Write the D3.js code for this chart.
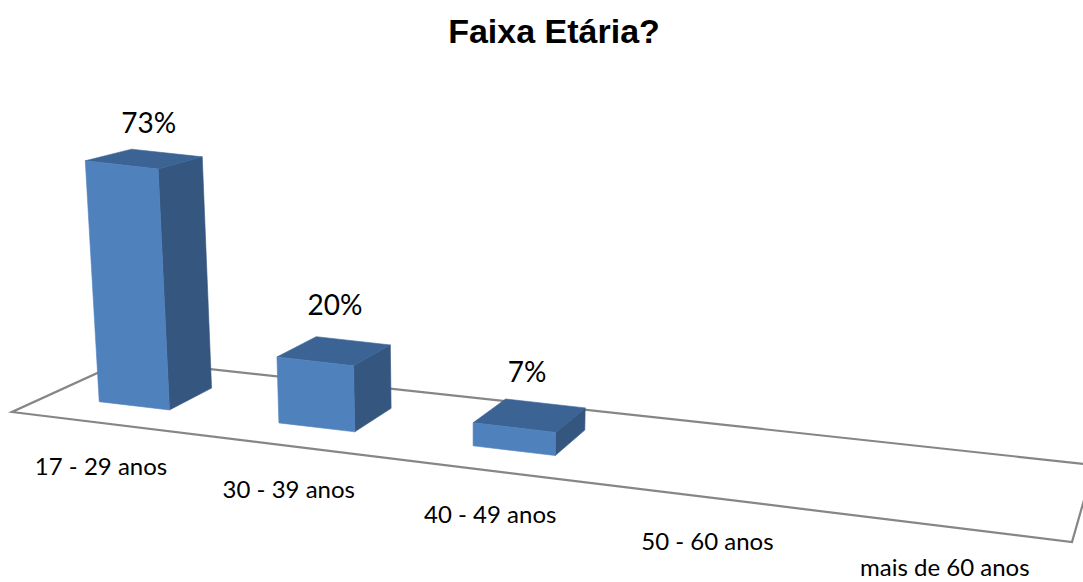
<!DOCTYPE html>
<html>
<head>
<meta charset="utf-8">
<script src="https://cdn.jsdelivr.net/npm/d3@7"></script>
<style>
  html, body { margin: 0; padding: 0; background: #fff; overflow: hidden; }
  svg { display: block; }
  text { fill: #000; }
</style>
</head>
<body>
<div id="chart"></div>
<script>
var title = 'Faixa Etária?';
var categories = ['17 - 29 anos', '30 - 39 anos', '40 - 49 anos', '50 - 60 anos', 'mais de 60 anos'];
var values = [73, 20, 7, null, null];

var w = 1083, h = 582;

// corners of the chart floor on screen: front left, front right, back right, back left
var floorCorners = [[12, 412], [1072, 542], [1094, 465], [126, 360]];

// unit square -> floor quad
function makeHomography(q){
  var dx1 = q[1][0] - q[2][0], dx2 = q[3][0] - q[2][0], sx = q[0][0] - q[1][0] + q[2][0] - q[3][0];
  var dy1 = q[1][1] - q[2][1], dy2 = q[3][1] - q[2][1], sy = q[0][1] - q[1][1] + q[2][1] - q[3][1];
  var det = dx1 * dy2 - dx2 * dy1;
  var g = (sx * dy2 - dx2 * sy) / det;
  var k = (dx1 * sy - sx * dy1) / det;
  var a = q[1][0] - q[0][0] + g * q[1][0], b = q[3][0] - q[0][0] + k * q[3][0];
  var d = q[1][1] - q[0][1] + g * q[1][1], e = q[3][1] - q[0][1] + k * q[3][1];
  return function(u, v){
    var z = g * u + k * v + 1;
    return [(a * u + b * v + q[0][0]) / z, (d * u + e * v + q[0][1]) / z];
  };
}
var floor = makeHomography(floorCorners);

var xBand = d3.scaleBand().domain(categories).range([0, 1.005]).paddingInner(0.6).paddingOuter(0.3);
var depth = d3.scaleLinear().domain([0, 1]).range([0.295, 0.695]);
var yHeight = d3.scaleLinear().domain([0, 100]).range([0, 330]);
var shrink = d3.scaleLinear().domain([0, 1]).range([1, 0.96]);

// small label adjustments, the projection alone does not land them exactly
var valueGap = [20, 26, 21];
var catNudge = [0, 1, 0, -3, -6];

// lift a floor point up; verticals lean slightly towards a vanishing point
function lift(p, height){
  return [p[0] + (p[0] - 470) / 6400 * height, p[1] - height];
}

var svg = d3.select('#chart').append('svg').attr('width', w).attr('height', h);
var line = d3.line();

function face(pts, color){
  svg.append('path')
    .attr('d', line(pts) + 'Z')
    .attr('fill', color)
    .attr('stroke', color)
    .attr('stroke-width', 0.6)
    .attr('stroke-linejoin', 'round');
}

// floor
svg.append('path')
  .attr('d', line(floorCorners) + 'Z')
  .attr('fill', 'none')
  .attr('stroke', '#868686')
  .attr('stroke-width', 2.2);

// title
svg.append('text')
  .attr('x', 554).attr('y', 43)
  .attr('text-anchor', 'middle')
  .style('font', 'bold 34px "Liberation Sans", Arial, sans-serif')
  .text(title);

// bars
categories.forEach(function(cat, i){
  var val = values[i];
  var u0 = xBand(cat), u1 = u0 + xBand.bandwidth();
  var uc = (u0 + u1) / 2;

  if(val !== null){
    var d0 = depth(0), d1 = depth(1);
    var fl = floor(u0, d0), fr = floor(u1, d0), br = floor(u1, d1), bl = floor(u0, d1);
    var hf = yHeight(val), hb = hf * shrink(1);
    var tfl = lift(fl, hf), tfr = lift(fr, hf), tbr = lift(br, hb), tbl = lift(bl, hb);

    face([fr, br, tbr, tfr], '#34567f');
    face([tfl, tfr, tbr, tbl], '#3b6394');
    face([fl, fr, tfr, tfl], '#4f81bd');

    // value label
    var top = lift(floor(uc, d1), hb);
    svg.append('text')
      .attr('x', top[0] - 18).attr('y', top[1] - valueGap[i])
      .attr('text-anchor', 'middle')
      .style('font', '28px Lato, "Open Sans", sans-serif')
      .text(val + '%');
  }

  // category label, kept inside the picture
  var base = floor(uc, 0);
  svg.append('text')
    .attr('x', base[0] + 1 + catNudge[i]).attr('y', Math.min(base[1] + 52, h - 6))
    .attr('text-anchor', 'middle')
    .style('font', '24px Lato, "Open Sans", sans-serif')
    .text(cat);
});
</script>
</body>
</html>
